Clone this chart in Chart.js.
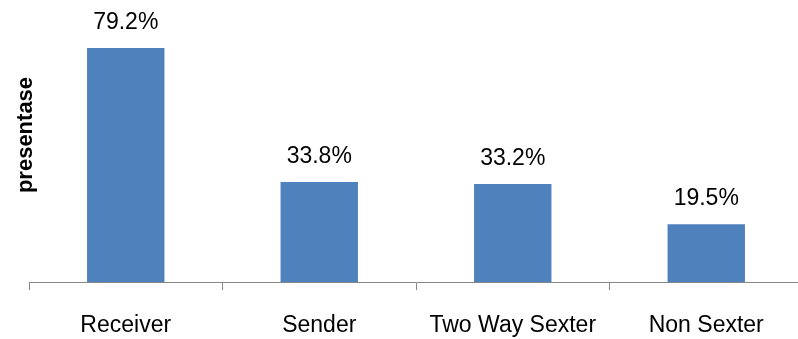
<!DOCTYPE html>
<html>
<head>
<meta charset="utf-8">
<script src="https://cdn.jsdelivr.net/npm/chart.js@4"></script>
<style>
  html, body { margin: 0; padding: 0; background: #fff; overflow: hidden; }
  #wrap { width: 798px; height: 339px; overflow: hidden; }
  #box { width: 803px; height: 339px; }
</style>
</head>
<body>
<div id="wrap"><div id="box"><canvas id="myChart"></canvas></div></div>
<script>
const categories = ["Receiver", "Sender", "Two Way Sexter", "Non Sexter"];
const values = [79.2, 33.8, 33.2, 19.5];
const yTitle = "presentase";

const FONT = "'Liberation Sans', Arial, sans-serif";

// etiquetas encima de cada barra
const barLabels = {
  id: "barLabels",
  afterDatasetsDraw(chart) {
    const ctx = chart.ctx;
    const meta = chart.getDatasetMeta(0);
    ctx.save();
    ctx.font = "23px " + FONT;
    ctx.fillStyle = "#000";
    ctx.textAlign = "center";
    ctx.textBaseline = "alphabetic";
    meta.data.forEach((bar, i) => {
      ctx.fillText(values[i].toFixed(1) + "%", bar.x, bar.y - 19);
    });
    ctx.restore();
  },
};

// titulo del eje y (rotado)
const yAxisTitle = {
  id: "yAxisTitle",
  afterDraw(chart) {
    const ctx = chart.ctx;
    ctx.save();
    ctx.translate(26, 135);
    ctx.rotate(-Math.PI / 2);
    ctx.font = "bold 22px " + FONT;
    ctx.fillStyle = "#000";
    ctx.textAlign = "center";
    ctx.textBaseline = "middle";
    ctx.fillText(yTitle, 0, 0);
    ctx.restore();
  },
};

new Chart(document.getElementById("myChart"), {
  type: "bar",
  data: {
    labels: categories,
    datasets: [
      {
        data: values,
        backgroundColor: "#4F81BD",
        borderWidth: 0,
        barPercentage: 0.4,
        categoryPercentage: 1,
      },
    ],
  },
  options: {
    responsive: true,
    maintainAspectRatio: false,
    animation: false,
    layout: { padding: { left: 29, top: 16, right: 0, bottom: 0 } },
    plugins: { legend: { display: false }, tooltip: { enabled: false } },
    scales: {
      x: {
        offset: true,
        afterFit(scale) {
          scale.height = 57;
        },
        grid: {
          offset: true,
          drawOnChartArea: false,
          drawTicks: true,
          tickLength: 8,
          color: "#868686",
          lineWidth: 1,
        },
        border: { display: true, color: "#868686", width: 1 },
        ticks: {
          color: "#000",
          padding: 22,
          font: { family: FONT, size: 23 },
          maxRotation: 0,
          autoSkip: false,
        },
      },
      y: {
        display: false,
        min: 0,
        max: 90,
      },
    },
  },
  plugins: [barLabels, yAxisTitle],
});
</script>
</body>
</html>
